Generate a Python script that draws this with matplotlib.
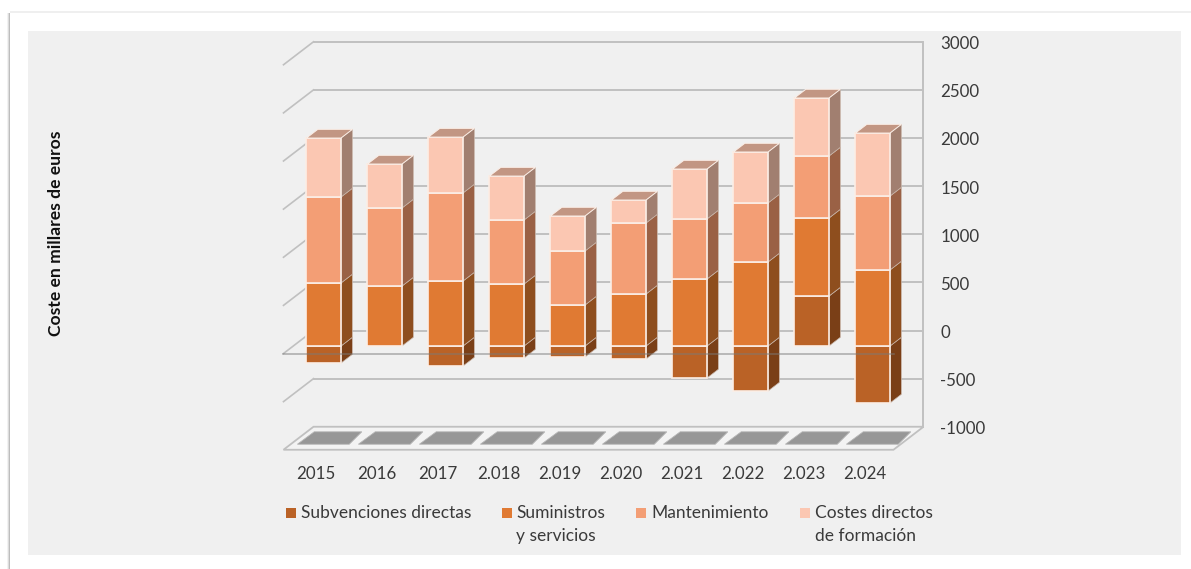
import matplotlib
matplotlib.use("Agg")
import matplotlib.pyplot as plt
from matplotlib.patches import Polygon, Rectangle
from matplotlib.transforms import Affine2D

categories = ["2015", "2016", "2017", "2.018", "2.019", "2.020", "2.021", "2.022", "2.023", "2.024"]
subvenciones = [-177, 0, -208, -125, -114, -135, -332, -468, 519, -592]
suministros = [655, 623, 675, 644, 426, 540, 696, 873, 811, 790]
mantenimiento = [893, 811, 915, 665, 561, 738, 624, 613, 644, 768]
costes = [613, 457, 581, 457, 364, 239, 519, 530, 603, 655]
y_ticks = [3000, 2500, 2000, 1500, 1000, 500, 0, -500, -1000]
legend_labels = ["Subvenciones directas", "Suministros\ny servicios", "Mantenimiento", "Costes directos\nde formación"]
y_title = "Coste en millares de euros"

W, H = 1191, 569
PITCH = 61.0
PX_PER_UNIT = 0.09625
X0, Y0 = 313.5, 330.5
DX = -30.0 / PITCH
DY = -23.0 / PX_PER_UNIT
D_FRONT, D_BACK = 0.675, 0.297
BAR_W = 0.566

plt.rcParams["font.family"] = ["Lato", "DejaVu Sans"]
fig = plt.figure(figsize=(W / 100, H / 100), dpi=100, facecolor="white")
ax = fig.add_axes([0, 0, 1, 1])
ax.set_xlim(-X0 / PITCH, (W - X0) / PITCH)
ax.set_ylim((Y0 - H) / PX_PER_UNIT, Y0 / PX_PER_UNIT)
ax.axis("off")
px = Affine2D().scale(1 / W, -1 / H).translate(0, 1) + fig.transFigure


def proj(x, v, d):
    return (x + d * DX, v + d * DY)


# card and panel
for i, c in enumerate(["#f2f2f2", "#dcdcdc", "#bdbdbd"]):
    ax.add_patch(Rectangle((7 + i, 13), 1, 556, transform=px, fc=c, ec="none", zorder=0))
ax.add_patch(Rectangle((10, 11), 1181, 1.5, transform=px, fc="#efefef", ec="none", zorder=0))
ax.add_patch(Rectangle((28, 31), 1153, 524, transform=px, fc="#f0f0f0", ec="none", zorder=0.5))

GRID = "#c0c0c0"
n = len(categories)

# walls and gridlines
for v in y_ticks:
    if v != -1000:
        ax.plot([0, n], [v, v], color=GRID, lw=1.4, zorder=1, solid_capstyle="butt")
        a, b = proj(0, v, 1), proj(0, v, 0)
        ax.plot([a[0], b[0]], [a[1], b[1]], color=GRID, lw=1.2, zorder=1)
ax.plot([n, n], [y_ticks[0], y_ticks[-1]], color=GRID, lw=1.4, zorder=1)

# floor
floor = [proj(0, -1000, 0), proj(n, -1000, 0), proj(n, -1000, 1), proj(0, -1000, 1)]
ax.add_patch(Polygon(floor, closed=True, fc="#f3f3f3", ec=GRID, lw=1.3, zorder=1.2))
for i in range(n):
    tile = [proj(i + 0.12, -1000, 0.22), proj(i + 0.90, -1000, 0.22),
            proj(i + 0.96, -1000, 0.76), proj(i + 0.11, -1000, 0.76)]
    ax.add_patch(Polygon(tile, closed=True, fc="#979797", ec="#b5b5b5", lw=0.6, zorder=1.3))

# stacked bars
series = [subvenciones, suministros, mantenimiento, costes]
front_c = ["#ba6226", "#e07a33", "#f39e75", "#fbc7b2"]
side_c = ["#7a3f17", "#8e4e1e", "#9a6145", "#a17f70"]
top_c = ["#8e5a35", "#a8693c", "#b9856a", "#c29683"]
EDGE = "#fbeee6"
z = 2.0
for i in range(n):
    pos, neg = 0, 0
    x0 = i + 0.5 - BAR_W / 2
    x1 = i + 0.5 + BAR_W / 2
    last_top = None
    for s, vals in enumerate(series):
        v = vals[i]
        if v == 0:
            continue
        if v > 0:
            lo, hi = pos, pos + v
            pos = hi
            last_top = s
        else:
            lo, hi = neg + v, neg
            neg = lo
        side = [proj(x1, lo, D_FRONT), proj(x1, lo, D_BACK), proj(x1, hi, D_BACK), proj(x1, hi, D_FRONT)]
        ax.add_patch(Polygon(side, closed=True, fc=side_c[s], ec="#c9b6aa", lw=0.5, zorder=z))
        z += 0.001
        front = [proj(x0, lo, D_FRONT), proj(x1, lo, D_FRONT), proj(x1, hi, D_FRONT), proj(x0, hi, D_FRONT)]
        ax.add_patch(Polygon(front, closed=True, fc=front_c[s], ec=EDGE, lw=1.2, zorder=z))
        z += 0.001
    top = [proj(x0, pos, D_FRONT), proj(x1, pos, D_FRONT), proj(x1, pos, D_BACK), proj(x0, pos, D_BACK)]
    ax.add_patch(Polygon(top, closed=True, fc=top_c[last_top], ec=EDGE, lw=0.7, zorder=z))
    z += 0.001

# front zero line across the bars
a, b = proj(0, 0, 1), proj(n, 0, 1)
ax.plot([a[0], b[0]], [a[1], b[1]], color="#7a7a7a", lw=1.1, alpha=0.6, zorder=5)

# value labels
TXT = "#3a3a3a"
for v in y_ticks:
    ax.annotate(str(v), xy=(n, v), xytext=(17, -2.5), textcoords="offset pixels",
                ha="left", va="center", fontsize=12.2, color=TXT, zorder=6)

# category labels
for i, c in enumerate(categories):
    p = proj(i + 0.5, -1000, 1)
    ax.annotate(c, xy=p, xytext=(1.5, -24), textcoords="offset pixels",
                ha="center", va="center", fontsize=12.2, color=TXT, zorder=6)

# y title
ax.text(56, 233, y_title, transform=px, rotation=90, ha="center", va="center",
        fontsize=12.6, fontweight="bold", color="#111111", zorder=6)

# legend
mark_x = [286, 502, 636, 800]
text_x = [301, 516, 651, 815]
for label, c, mx, tx in zip(legend_labels, front_c, mark_x, text_x):
    ax.add_patch(Rectangle((mx, 508.5), 9.5, 9.5, transform=px, fc=c, ec="none", zorder=6))
    ax.text(tx, 505.5, label, transform=px, ha="left", va="top", fontsize=12.5,
            color=TXT, linespacing=1.5, zorder=6)

fig.savefig("out.png", dpi=100, facecolor="white")
